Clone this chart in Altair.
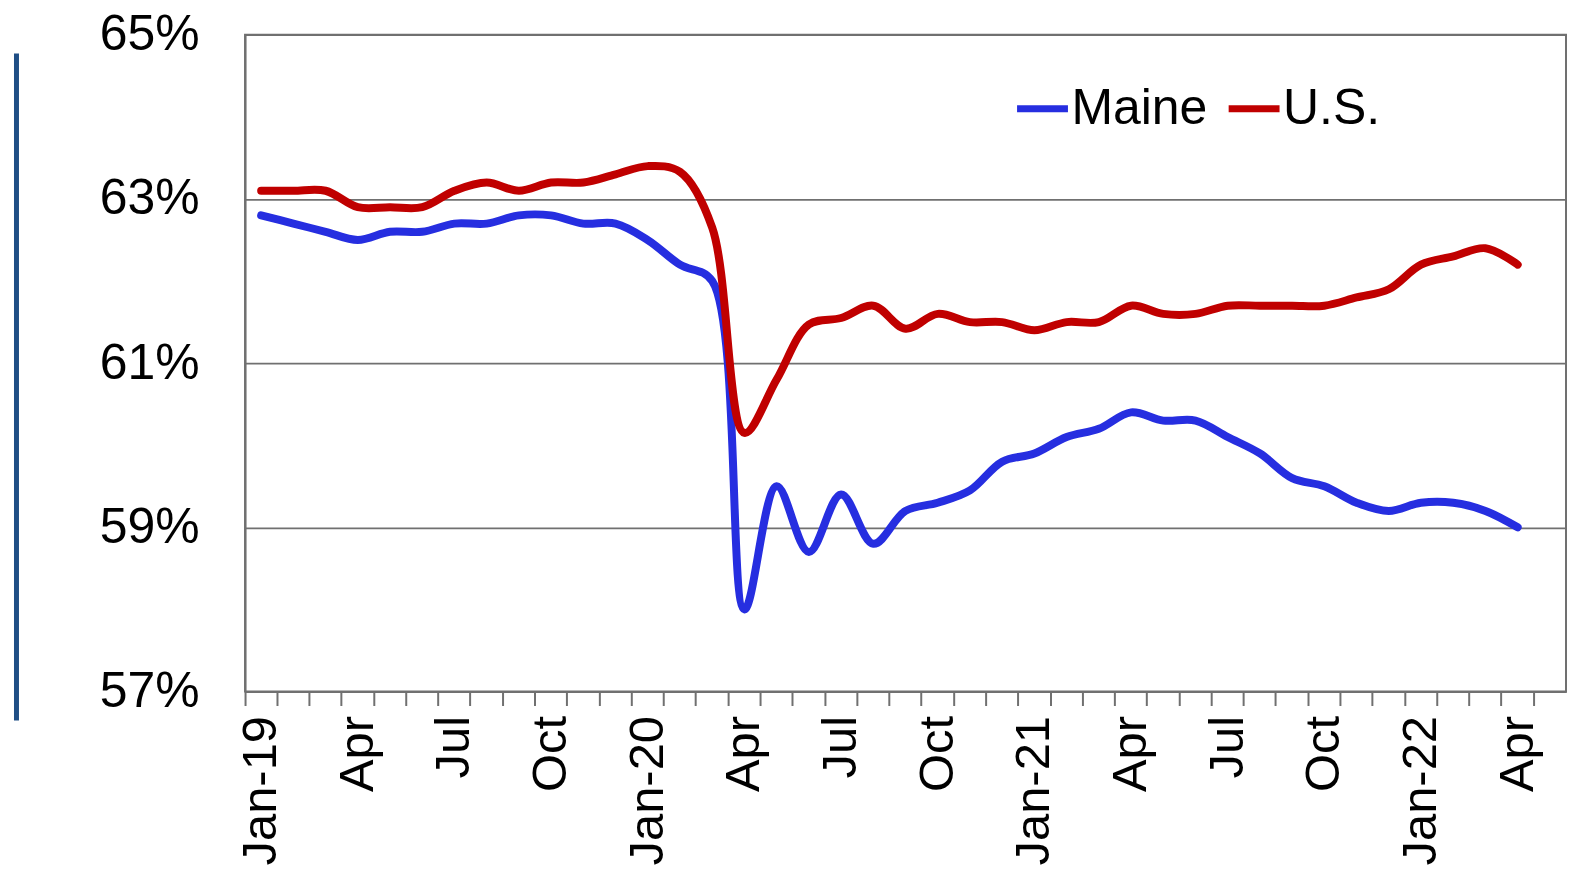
import altair as alt
import pandas as pd

# x categories (monthly); May-22 is an empty slot at the right end of the axis
months = [
    "Jan-19", "Feb-19", "Mar-19", "Apr-19", "May-19", "Jun-19", "Jul-19", "Aug-19", "Sep-19", "Oct-19", "Nov-19", "Dec-19",
    "Jan-20", "Feb-20", "Mar-20", "Apr-20", "May-20", "Jun-20", "Jul-20", "Aug-20", "Sep-20", "Oct-20", "Nov-20", "Dec-20",
    "Jan-21", "Feb-21", "Mar-21", "Apr-21", "May-21", "Jun-21", "Jul-21", "Aug-21", "Sep-21", "Oct-21", "Nov-21", "Dec-21",
    "Jan-22", "Feb-22", "Mar-22", "Apr-22", "May-22",
]

# labour force participation rate, percent
maine = [
    62.8, 62.7, 62.6, 62.5, 62.6, 62.6, 62.7, 62.7, 62.8, 62.8, 62.7, 62.7,
    62.5, 62.2, 62.0, 58.0, 59.5, 58.7, 59.4, 58.8, 59.2, 59.3, 59.45, 59.8,
    59.9, 60.1, 60.2, 60.4, 60.3, 60.3, 60.1, 59.9, 59.6, 59.5, 59.3, 59.2,
    59.3, 59.3, 59.2, 59.0,
]

us = [
    63.1, 63.1, 63.1, 62.9, 62.9, 62.9, 63.1, 63.2, 63.1, 63.2, 63.2, 63.3,
    63.4, 63.33, 62.65, 60.15, 60.8, 61.47, 61.55, 61.7, 61.42, 61.6, 61.5, 61.5,
    61.4, 61.5, 61.5, 61.7, 61.6, 61.6, 61.7, 61.7, 61.7, 61.7, 61.8, 61.9,
    62.2, 62.3, 62.4, 62.2,
]

series_names = ["Maine", "U.S."]
series_colors = ["#262EE0", "#C00000"]
y_ticks = [0.57, 0.59, 0.61, 0.63, 0.65]

rows = []
for name, vals in zip(series_names, [maine, us]):
    for m, v in zip(months, vals):
        rows.append({"month": m, "series": name, "value": v})
df = pd.DataFrame(rows)

FONT = "Liberation Sans"
GRID = "#707070"

label_expr = (
    "indexof(['Jan','Apr','Jul','Oct'], slice(datum.value,0,3)) < 0 ? '' : "
    "(slice(datum.value,0,3) == 'Jan' ? datum.value : slice(datum.value,0,3))"
)

lines = alt.Chart(df).transform_calculate(
    rate="datum.value / 100"
).mark_line(
    strokeWidth=8, interpolate="catmull-rom", strokeCap="round", strokeJoin="round"
).encode(
    x=alt.X(
        "month:O",
        sort=months,
        bandPosition=0.5,
        scale=alt.Scale(type="band", domain=months, paddingInner=0, paddingOuter=0),
        axis=alt.Axis(
            title=None,
            labelAngle=270,
            labelExpr=label_expr,
            labelOverlap=False,
            labelFont=FONT,
            labelFontSize=49,
            labelColor="black",
            labelPadding=10,
            ticks=True,
            bandPosition=0,
            tickSize=14,
            tickWidth=2,
            tickColor=GRID,
            domainColor=GRID,
            domainWidth=2,
            grid=False,
        ),
    ),
    y=alt.Y(
        "rate:Q",
        scale=alt.Scale(domain=[0.57, 0.65], nice=False, zero=False),
        axis=alt.Axis(
            title=None,
            values=y_ticks,
            format=".0%",
            tickSize=0,
            labelPadding=46,
            labelFont=FONT,
            labelFontSize=50,
            labelColor="black",
            grid=True,
            gridColor=GRID,
            gridWidth=1.7,
            domainColor=GRID,
            domainWidth=2,
        ),
    ),
    color=alt.Color(
        "series:N",
        scale=alt.Scale(domain=series_names, range=series_colors),
        legend=alt.Legend(
            title=None,
            orient="none",
            legendX=770,
            legendY=45,
            direction="horizontal",
            symbolType="stroke",
            symbolSize=2600,
            symbolStrokeWidth=7,
            labelFont=FONT,
            labelFontSize=50,
            labelColor="black",
            labelOffset=0,
            labelLimit=400,
            columnPadding=6,
            padding=0,
        ),
    ),
)

bar = alt.Chart(pd.DataFrame({"k": [0]})).mark_rule(
    color="#1F4E85", strokeWidth=5
).encode(
    x=alt.value(-229),
    y=alt.value(18.7),
    y2=alt.value(687),
)

chart = alt.layer(lines, bar).properties(
    width=1323.5,
    height=658,
    autosize=alt.AutoSizeParams(type="none"),
    padding={"left": 237.5, "top": 26, "right": 2, "bottom": 176},
    background="white",
).configure_view(stroke=GRID, strokeWidth=2)

chart.save("out.html", embed_options={"renderer": "svg", "actions": False})
